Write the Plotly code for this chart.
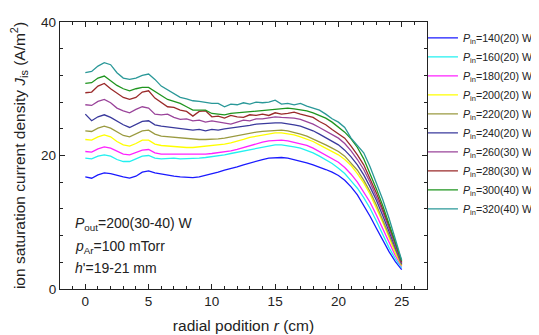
import plotly.graph_objects as go

# radial position (cm)
r = [0, 0.5, 1, 1.5, 2, 2.5, 3, 3.5, 4, 4.5, 5, 5.5, 6, 6.5, 7, 7.5, 8, 8.5, 9, 9.5,
     10, 10.5, 11, 11.5, 12, 12.5, 13, 13.5, 14, 14.5, 15, 15.5, 16, 16.5, 17, 17.5,
     18, 18.5, 19, 19.5, 20, 20.5, 21, 21.5, 22, 22.5, 23, 23.5, 24, 24.5, 25]

j140 = [16.8, 16.6, 17.1, 17.4, 17.3, 17.0, 16.8, 16.6, 16.9, 17.5, 17.7, 17.4, 17.2, 17.1, 16.9, 16.8, 16.7, 16.7, 16.8, 17.0,
        17.2, 17.5, 17.8, 18.0, 18.3, 18.6, 18.9, 19.2, 19.4, 19.6, 19.7, 19.7, 19.6, 19.4, 19.1, 18.9,
        18.6, 18.3, 17.9, 17.5, 17.0, 16.3, 15.3, 14.1, 12.6, 10.9, 9.1, 7.3, 5.6, 4.1, 2.9]
j160 = [19.6, 19.5, 19.9, 20.1, 19.9, 19.4, 19.1, 19.1, 19.5, 19.9, 20.0, 19.6, 19.5, 19.6, 19.6, 19.5, 19.5, 19.6, 19.6, 19.7,
        19.8, 19.9, 20.1, 20.3, 20.5, 20.7, 20.9, 21.1, 21.3, 21.5, 21.6, 21.6, 21.5, 21.3, 21.1, 20.8,
        20.4, 19.9, 19.4, 18.8, 18.1, 17.3, 16.2, 15.1, 13.7, 12.1, 10.2, 8.2, 6.2, 4.5, 3.2]
j180 = [20.6, 20.5, 21.0, 21.3, 21.1, 20.6, 20.2, 20.1, 20.4, 20.8, 20.9, 20.4, 20.2, 20.2, 20.1, 20.1, 20.1, 20.1, 20.2, 20.2,
        20.3, 20.4, 20.5, 20.7, 20.9, 21.2, 21.5, 21.8, 22.0, 22.2, 22.3, 22.3, 22.2, 22.0, 21.8, 21.5,
        21.1, 20.6, 20.1, 19.6, 19.0, 18.2, 17.2, 16.0, 14.6, 13.0, 11.1, 9.1, 7.0, 5.0, 3.4]
j200 = [22.4, 22.3, 22.8, 23.1, 22.8, 22.1, 21.6, 21.4, 21.8, 22.3, 22.3, 21.7, 21.5, 21.4, 21.3, 21.2, 21.2, 21.2, 21.3, 21.3,
        21.4, 21.5, 21.7, 21.9, 22.1, 22.4, 22.7, 22.9, 23.1, 23.3, 23.4, 23.4, 23.3, 23.1, 22.8, 22.5,
        22.1, 21.6, 21.1, 20.6, 20.1, 19.4, 18.5, 17.3, 15.9, 14.2, 12.2, 10.0, 7.7, 5.4, 3.5]
j220 = [23.7, 23.6, 24.1, 24.4, 24.1, 23.5, 23.0, 22.8, 23.2, 23.7, 23.8, 23.2, 22.9, 22.8, 22.7, 22.6, 22.5, 22.4, 22.4, 22.4,
        22.4, 22.5, 22.6, 22.8, 23.0, 23.2, 23.4, 23.5, 23.6, 23.7, 23.8, 23.8, 23.7, 23.5, 23.2, 22.9,
        22.5, 22.0, 21.6, 21.1, 20.6, 19.9, 18.9, 17.8, 16.3, 14.6, 12.6, 10.4, 8.0, 5.8, 3.6]
j240 = [26.2, 25.2, 25.8, 26.1, 25.7, 25.1, 24.6, 24.2, 24.6, 25.1, 25.2, 24.6, 24.4, 24.3, 24.2, 24.1, 24.0, 23.8, 23.9, 23.7,
        23.9, 23.8, 24.0, 24.1, 24.2, 24.4, 24.5, 24.7, 24.8, 24.9, 24.9, 24.9, 24.8, 24.6, 24.4, 24.1,
        23.7, 23.2, 22.7, 22.2, 21.6, 20.8, 19.8, 18.6, 17.1, 15.3, 13.3, 11.0, 8.6, 6.2, 3.8]
j260 = [27.6, 27.5, 28.1, 28.4, 27.9, 27.1, 26.7, 26.4, 26.9, 27.3, 27.1, 26.2, 26.1, 26.2, 25.7, 25.4, 25.5, 25.2, 25.3, 25.0,
        25.2, 25.0, 24.9, 24.7, 25.0, 25.3, 25.2, 25.5, 25.5, 25.7, 25.8, 25.7, 25.7, 25.6, 25.4, 25.1,
        24.7, 24.2, 23.7, 23.2, 22.6, 21.8, 20.7, 19.4, 17.9, 16.0, 13.9, 11.6, 9.1, 6.6, 3.9]
j280 = [29.4, 29.5, 30.4, 30.8, 30.0, 29.3, 28.7, 28.4, 28.7, 29.5, 29.7, 28.6, 27.9, 27.3, 27.2, 26.8, 26.6, 25.9, 26.6, 26.7,
        25.8, 25.9, 25.6, 26.0, 25.8, 25.7, 26.1, 26.0, 26.2, 26.0, 26.4, 26.2, 26.3, 26.5, 26.2, 26.0,
        25.7, 25.1, 24.6, 23.9, 23.3, 22.6, 21.4, 20.1, 18.6, 16.6, 14.4, 12.0, 9.5, 6.9, 4.0]
j300 = [30.8, 30.9, 31.6, 31.9, 31.2, 30.5, 30.0, 29.7, 30.0, 30.2, 30.2, 29.6, 29.0, 28.4, 28.1, 27.8, 27.3, 26.8, 26.8, 26.8,
        26.3, 26.2, 26.1, 26.3, 26.4, 26.5, 26.6, 26.7, 26.8, 26.9, 27.0, 27.1, 27.1, 27.0, 26.9, 26.7,
        26.4, 26.0, 25.6, 25.0, 24.3, 23.5, 22.5, 21.2, 19.5, 17.3, 15.0, 12.5, 9.8, 7.1, 4.2]
j320 = [32.4, 32.6, 33.4, 33.9, 33.6, 32.4, 31.6, 31.4, 31.6, 32.0, 32.2, 31.4, 30.4, 29.8, 29.2, 28.7, 28.5, 28.2, 28.1, 27.9,
        27.8, 27.8, 27.3, 27.7, 27.6, 27.9, 27.7, 28.0, 27.9, 28.0, 28.3, 27.7, 27.8, 27.6, 27.8, 27.4,
        27.1, 26.8, 26.2, 25.5, 25.0, 24.2, 22.6, 21.5, 20.4, 18.3, 15.9, 13.4, 10.6, 7.6, 4.3]

series_names = ["140(20)", "160(20)", "180(20)", "200(20)", "220(20)",
                "240(20)", "260(30)", "280(30)", "300(40)", "320(40)"]
series_values = [j140, j160, j180, j200, j220, j240, j260, j280, j300, j320]
series_colors = ["#1a1aff", "#22f0f0", "#ff22ff", "#ffff00", "#9a9a40",
                 "#3a3a9c", "#9a449a", "#9a2a2a", "#1f951f", "#2a9898"]

x_ticks = [0, 5, 10, 15, 20, 25]
y_ticks = [0, 20, 40]

FONT = "Liberation Sans, Arial, sans-serif"

fig = go.Figure()
for name, vals, col in zip(series_names, series_values, series_colors):
    fig.add_trace(go.Scatter(
        x=r, y=vals, mode="lines",
        line=dict(color=col, width=1.3),
        name=f"<i>P</i><sub>in</sub>={name} W",
    ))

axis_common = dict(
    showline=True, linecolor="#222", linewidth=1.3, mirror="allticks",
    ticks="inside", ticklen=5, tickcolor="#222", tickwidth=1,
    showgrid=False, zeroline=False, automargin=False,
    tickfont=dict(family=FONT, size=13.5, color="#222"),
)

fig.update_xaxes(
    range=[-2, 27], tickvals=x_ticks,
    minor=dict(dtick=1, tick0=0, ticks="inside", ticklen=3, tickcolor="#222"),
    title=dict(text="radial podition <i>r</i> (cm)", font=dict(family=FONT, size=15.5, color="#222"), standoff=11),
    **axis_common,
)
fig.update_yaxes(
    range=[0, 40], tickvals=y_ticks,
    minor=dict(dtick=4, tick0=0, ticks="inside", ticklen=3, tickcolor="#222"),
    title=dict(text="ion saturation current density <i>J</i><sub>is</sub> (A/m<sup>2</sup>)",
               font=dict(family=FONT, size=15.5, color="#222"), standoff=14),
    **axis_common,
)

notes = [
    ("<i>P</i><sub>out</sub>=200(30-40) W", 9.7),
    ("<i>p</i><sub>Ar</sub>=100 mTorr", 6.3),
    ("<i>h</i>'=19-21 mm", 3.1),
]
for txt, yv in notes:
    fig.add_annotation(x=-1.0, y=yv, xref="x", yref="y", text=txt, showarrow=False,
                       xanchor="left", yanchor="middle",
                       font=dict(family=FONT, size=14, color="#222"))

# page body has an 8px default margin, so the figure is sized to fill the rest
fig.update_layout(
    width=531, height=327,
    margin=dict(l=52, r=112, t=14, b=46, autoexpand=False),
    plot_bgcolor="white", paper_bgcolor="white",
    font=dict(family=FONT, color="#222"),
    legend=dict(x=0.989, y=0.995, xanchor="left", yanchor="top",
                font=dict(family=FONT, size=10.7, color="#222"),
                itemwidth=30, tracegroupgap=0, bgcolor="rgba(0,0,0,0)"),
    showlegend=True,
)

fig.write_html("out.html")
